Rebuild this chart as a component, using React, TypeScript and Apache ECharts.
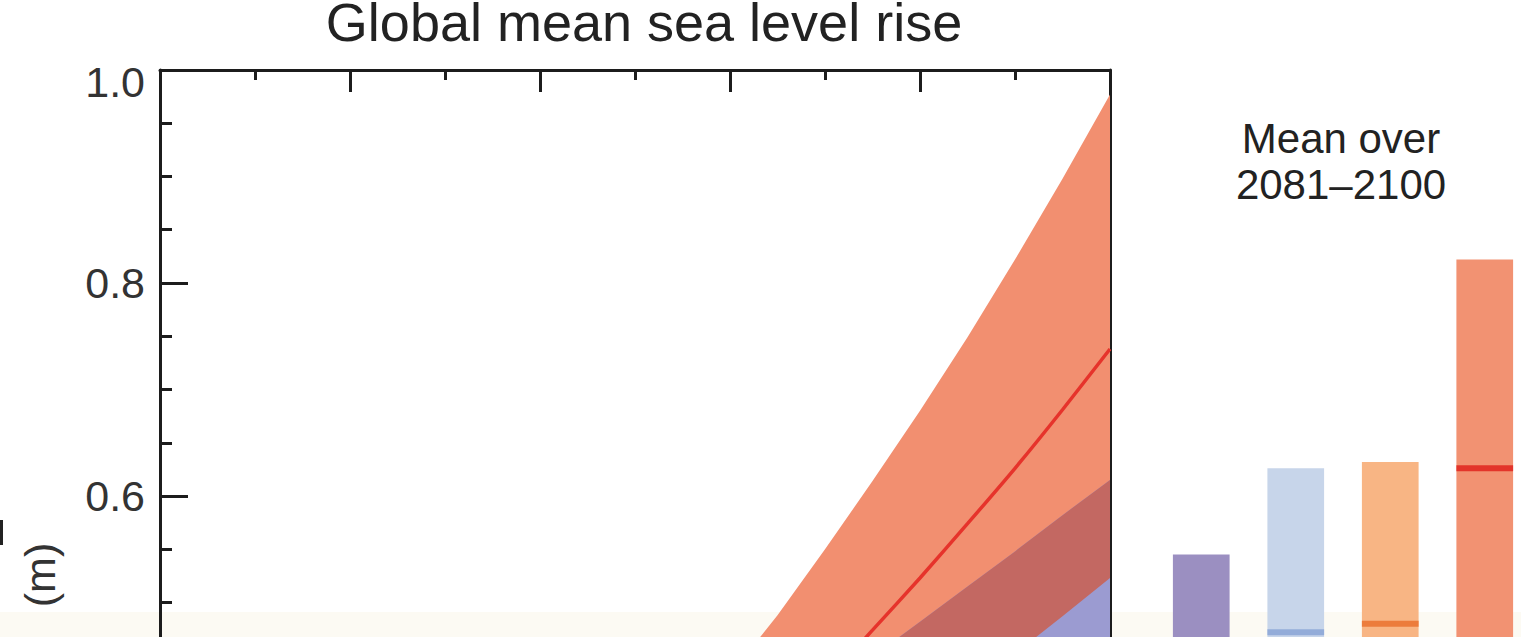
import React, { useEffect, useRef } from "react";
import * as echarts from "echarts";

// ---- Data ----
const years = [2055, 2060, 2065, 2070, 2075, 2080, 2085, 2090, 2095, 2100];
const rcp85High = [0.39, 0.432, 0.488, 0.55, 0.614, 0.68, 0.749, 0.822, 0.898, 0.977];
const rcp85Median = [0.33, 0.36, 0.395, 0.426, 0.474, 0.523, 0.574, 0.626, 0.681, 0.738];
const rcp85Low = [0.25, 0.27, 0.29, 0.32, 0.35, 0.385, 0.418, 0.452, 0.487, 0.523];
const rcp26High = [0.325, 0.355, 0.385, 0.416, 0.449, 0.482, 0.515, 0.548, 0.582, 0.615];
const rcp26Low = [0.17, 0.18, 0.19, 0.2, 0.215, 0.23, 0.245, 0.26, 0.27, 0.28];

const scenarios = ["RCP2.6", "RCP4.5", "RCP6.0", "RCP8.5"];
const barLow = [0.26, 0.32, 0.33, 0.45];
const barHigh = [0.545, 0.626, 0.632, 0.822];
const barMedian = [0.4, 0.472, 0.48, 0.626];

const yTickLabels = ["0.4", "0.6", "0.8", "1.0"];

// ---- Styles ----
const FONT = '"Liberation Sans", Arial, Helvetica, sans-serif';
const AXIS = "#1c1c1c";
const barFill = ["#9b8fc1", "#c7d5ea", "#f8b584", "#f29272"];
const barMedianColor = ["#7f7fbf", "#93acd9", "#ec7c3c", "#e3342a"];

function bandRenderer(upper: number[], lower: number[], fill: string) {
  return (_params: any, api: any) => {
    const pts: number[][] = [];
    years.forEach((y, i) => pts.push(api.coord([y, upper[i]])));
    for (let i = years.length - 1; i >= 0; i--) pts.push(api.coord([years[i], lower[i]]));
    return { type: "polygon", shape: { points: pts }, style: { fill } };
  };
}

export default function App() {
  const ref = useRef<HTMLDivElement>(null);
  useEffect(() => {
    if (!ref.current) return;
    const chart = echarts.init(ref.current, null, { renderer: "svg" });
    const tickStyle = { color: AXIS, width: 3 };
    const yAxisCommon = (gridIndex: number, position: string, showLabel: boolean, show = true) => ({
      gridIndex,
      show,
      type: "value",
      position,
      min: 0.4,
      max: 1.0,
      interval: 0.2,
      axisLine: { show: true, onZero: false, lineStyle: { color: AXIS, width: 3 } },
      axisTick: { show: true, inside: true, length: 28, lineStyle: tickStyle },
      minorTick: { show: true, splitNumber: 4, length: 12, lineStyle: tickStyle },
      splitLine: { show: false },
      minorSplitLine: { show: false },
      axisLabel: {
        show: showLabel,
        showMinLabel: false,
        fontSize: 43,
        fontFamily: FONT,
        color: "#333",
        margin: 15,
        formatter: (v: number) => {
          const idx = Math.round((v - 0.4) / 0.2);
          const t = yTickLabels[idx] ?? v.toFixed(1);
          return Math.abs(v - 1) < 1e-6 ? "{max|" + t + "}" : t;
        },
        rich: { max: { fontSize: 43, fontFamily: FONT, color: "#333", padding: [24, 0, 0, 0] } },
      },
    });

    chart.setOption({
      animation: false,
      backgroundColor: "#ffffff",
      grid: [
        { left: 160, right: 411, top: 70, bottom: -72, outerBoundsMode: "none" },
        { left: 1154, right: -11, top: 70, bottom: -72, outerBoundsMode: "none" },
      ],
      xAxis: [
        {
          gridIndex: 0,
          type: "value",
          position: "top",
          min: 2000,
          max: 2100,
          interval: 20,
          axisLine: { show: true, onZero: false, lineStyle: { color: AXIS, width: 3 } },
          axisTick: { show: true, inside: true, length: 22, lineStyle: tickStyle },
          minorTick: { show: true, splitNumber: 2, length: 10, lineStyle: tickStyle },
          axisLabel: { show: false },
          splitLine: { show: false },
          minorSplitLine: { show: false },
        },
        { gridIndex: 1, type: "value", min: 0, max: 4, show: false },
      ],
      yAxis: [yAxisCommon(0, "left", true), yAxisCommon(0, "right", false), yAxisCommon(1, "left", false, false)],
      series: [
        {
          type: "custom",
          xAxisIndex: 0,
          yAxisIndex: 0,
          clip: true,
          data: [[2080, 0.7]],
          renderItem: bandRenderer(rcp85High, rcp85Low, "#f28f70"),
          z: 2,
        },
        {
          type: "custom",
          xAxisIndex: 0,
          yAxisIndex: 0,
          clip: true,
          data: [[2080, 0.4]],
          renderItem: bandRenderer(rcp26High, rcp26Low, "#9b9bd1"),
          z: 3,
        },
        {
          type: "custom",
          xAxisIndex: 0,
          yAxisIndex: 0,
          clip: true,
          data: [[2080, 0.5]],
          renderItem: bandRenderer(rcp26High, rcp85Low, "#c36862"),
          z: 4,
        },
        {
          type: "line",
          xAxisIndex: 0,
          yAxisIndex: 0,
          data: years.map((y, i) => [y, rcp85Median[i]]),
          showSymbol: false,
          smooth: 0.2,
          lineStyle: { color: "#e6332b", width: 3.5 },
          z: 5,
        },
        {
          type: "custom",
          name: "Mean over 2081–2100",
          xAxisIndex: 1,
          yAxisIndex: 2,
          clip: true,
          data: scenarios.map((s, i) => [i, barLow[i], barHigh[i], barMedian[i]]),
          renderItem: (params: any, api: any) => {
            const i = api.value(0);
            const lo = api.value(1);
            const hi = api.value(2);
            const med = api.value(3);
            const p1 = api.coord([i + 0.2, hi]);
            const p2 = api.coord([i + 0.8, lo]);
            const pm = api.coord([i + 0.2, med]);
            return {
              type: "group",
              children: [
                {
                  type: "rect",
                  shape: { x: p1[0], y: p1[1], width: p2[0] - p1[0], height: p2[1] - p1[1] },
                  style: { fill: barFill[params.dataIndex] },
                },
                {
                  type: "rect",
                  shape: { x: p1[0], y: pm[1] - 3, width: p2[0] - p1[0], height: 6 },
                  style: { fill: barMedianColor[params.dataIndex] },
                },
              ],
            };
          },
          z: 2,
        },
      ],
      graphic: [
        {
          type: "rect",
          z: -10,
          shape: { x: 0, y: 612, width: 1521, height: 25 },
          style: { fill: "#fcfaf3" },
        },
        {
          type: "text",
          x: 644,
          y: 22,
          style: {
            text: "Global mean sea level rise",
            fontSize: 54,
            lineHeight: 44,
            fontFamily: FONT,
            fill: "#222",
            align: "center",
            verticalAlign: "middle",
          },
        },
        {
          type: "text",
          x: 40,
          y: 575,
          rotation: Math.PI / 2,
          style: {
            text: "(m)",
            fontSize: 43,
            fontFamily: FONT,
            fill: "#333",
            align: "center",
            verticalAlign: "middle",
          },
        },
        {
          type: "rect",
          shape: { x: 0, y: 520, width: 3, height: 25 },
          style: { fill: "#222" },
        },
        {
          type: "text",
          x: 1341,
          y: 138,
          style: {
            text: "Mean over",
            fontSize: 42,
            fontFamily: FONT,
            fill: "#222",
            align: "center",
            verticalAlign: "middle",
          },
        },
        {
          type: "text",
          x: 1341,
          y: 184,
          style: {
            text: "2081–2100",
            fontSize: 42,
            fontFamily: FONT,
            fill: "#222",
            align: "center",
            verticalAlign: "middle",
          },
        },
      ],
    });
    return () => chart.dispose();
  }, []);
  return (
    <div
      ref={ref}
      style={{ position: "fixed", left: 0, top: 0, width: 1521, height: 637 }}
    />
  );
}
